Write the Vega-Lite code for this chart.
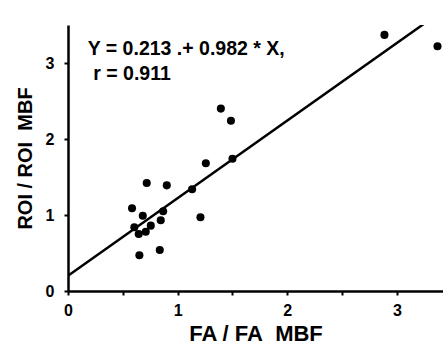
{
  "$schema": "https://vega.github.io/schema/vega-lite/v6.json",
  "width": 375,
  "height": 266,
  "autosize": {"type": "none"},
  "padding": {"left": 68, "top": 25, "right": 0, "bottom": 58},
  "background": "white",
  "config": {
    "view": {"stroke": null},
    "font": "Liberation Sans",
    "axis": {
      "grid": false,
      "domainColor": "black",
      "domainWidth": 2.5,
      "tickColor": "black",
      "tickWidth": 2,
      "tickSize": 4,
      "labelFont": "Liberation Sans",
      "labelFontWeight": "bold",
      "labelFontSize": 16,
      "labelColor": "black",
      "titleFont": "Liberation Sans",
      "titleFontWeight": "bold",
      "titleFontSize": 20,
      "titleColor": "black"
    }
  },
  "datasets": {
    "pts": [
      {"x": 2.886, "y": 3.37},
      {"x": 3.37, "y": 3.22},
      {"x": 1.394, "y": 2.40},
      {"x": 1.486, "y": 2.24},
      {"x": 1.50, "y": 1.74},
      {"x": 1.257, "y": 1.68},
      {"x": 1.132, "y": 1.34},
      {"x": 0.901, "y": 1.39},
      {"x": 0.718, "y": 1.42},
      {"x": 1.208, "y": 0.97},
      {"x": 0.868, "y": 1.05},
      {"x": 0.846, "y": 0.93},
      {"x": 0.682, "y": 0.99},
      {"x": 0.584, "y": 1.09},
      {"x": 0.605, "y": 0.84},
      {"x": 0.755, "y": 0.86},
      {"x": 0.709, "y": 0.78},
      {"x": 0.645, "y": 0.75},
      {"x": 0.651, "y": 0.47},
      {"x": 0.837, "y": 0.54}
    ],
    "fit": [
      {"x": 0, "y": 0.2},
      {"x": 3.28, "y": 3.55}
    ],
    "notes": [
      {"x": 0.18, "y": 3.18, "t": "Y = 0.213 .+ 0.982 * X,"},
      {"x": 0.23, "y": 2.86, "t": "r = 0.911"}
    ]
  },
  "layer": [
    {
      "data": {"name": "fit"},
      "mark": {"type": "line", "color": "black", "strokeWidth": 2.5, "clip": true},
      "encoding": {
        "x": {
          "field": "x", "type": "quantitative",
          "scale": {"domain": [0, 3.42], "nice": false, "zero": false},
          "axis": {
            "title": "FA / FA\u00a0\u00a0MBF",
            "titleFontSize": 22,
            "values": [0, 0.5, 1, 1.5, 2, 2.5, 3],
            "labelExpr": "datum.value % 1 == 0 ? format(datum.value, 'd') : ''",
            "labelPadding": 7,
            "titlePadding": 5,
            "labelFlush": false
          }
        },
        "y": {
          "field": "y", "type": "quantitative",
          "scale": {"domain": [0, 3.5], "nice": false, "zero": false},
          "axis": {
            "title": "ROI / ROI\u00a0\u00a0MBF",
            "values": [0, 0.5, 1, 1.5, 2, 2.5, 3, 3.5],
            "labelExpr": "datum.value % 1 == 0 ? format(datum.value, 'd') : ''",
            "labelPadding": 10,
            "titlePadding": 10,
            "labelFlush": false
          }
        }
      }
    },
    {
      "data": {"name": "pts"},
      "mark": {"type": "circle", "color": "black", "size": 65, "opacity": 1},
      "encoding": {
        "x": {"field": "x", "type": "quantitative"},
        "y": {"field": "y", "type": "quantitative"}
      }
    },
    {
      "data": {"name": "notes"},
      "mark": {"type": "text", "align": "left", "baseline": "middle", "fontSize": 19.5, "fontWeight": "bold", "font": "Liberation Sans", "color": "black"},
      "encoding": {
        "x": {"field": "x", "type": "quantitative"},
        "y": {"field": "y", "type": "quantitative"},
        "text": {"field": "t"}
      }
    }
  ]
}
